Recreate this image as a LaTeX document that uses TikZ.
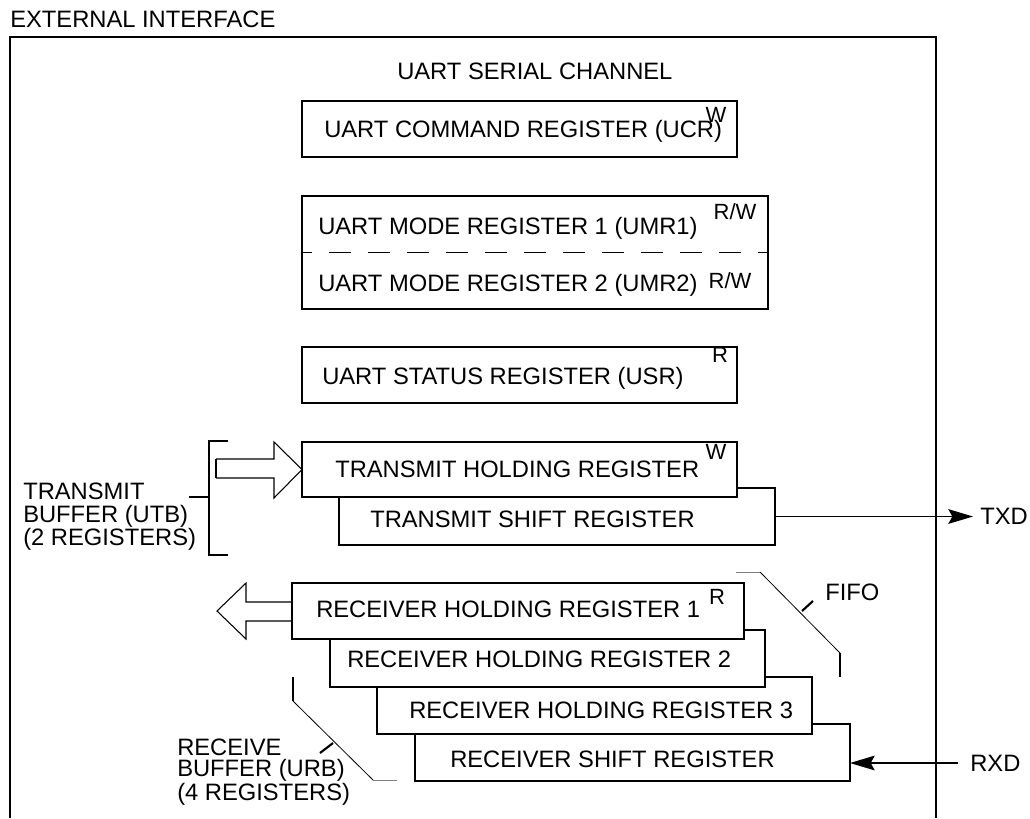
\documentclass[tikz,border=0pt]{standalone}
\usepackage{fontspec}
\setmainfont{Liberation Sans}
\usetikzlibrary{arrows.meta, calc}
\tikzset{%
  regbox/.style 2 args={draw, fill=white, line width=0.8pt, inner sep=0pt, outer sep=0pt,
                        minimum width=#1*0.75pt, minimum height=#2*0.75pt},
  regtext/.style={anchor=base west, inner sep=0pt},
  acc/.style={anchor=base, inner sep=0pt, font=\fontsize{16.5}{16.5}\selectfont},
  bracket/.style={line width=1.6pt},
  sig/.style={line width=1.3pt, -{Stealth[length=18.5pt, width=11pt, inset=3pt]}},
}

\begin{document}
\begin{tikzpicture}[x=0.75pt, y=-0.75pt, font=\fontsize{17.8}{20}\selectfont]
    \useasboundingbox (0,0) rectangle (1030,818);

    %outer frame
    \node[regtext] (ext) at (10,27) {EXTERNAL INTERFACE};
    \draw[line width=0.8pt] (10,818) -- (10,37) -- (936,37) -- (936,818);
    \node[regtext] (chan) at (397,79) {UART SERIAL CHANNEL};

    %command, mode and status registers
    \node[regbox={435}{56}] (ucr) at (519.5,129) {};
    \node[regtext] (ucr-t) at (324,137) {UART COMMAND REGISTER (UCR)};
    \node[acc] (ucr-a) at (716,122) {W};

    \node[regbox={466}{113}] (umr) at (535,252.5) {};
    \draw[line width=0.8pt, dash pattern=on 16.5pt off 12.75pt, dash phase=9pt] (umr.west) -- (umr.east);
    \node[regtext] (umr1-t) at (318,234) {UART MODE REGISTER 1 (UMR1)};
    \node[acc] (umr1-a) at (735,219) {R/W};
    \node[regtext] (umr2-t) at (318,291) {UART MODE REGISTER 2 (UMR2)};
    \node[acc] (umr2-a) at (730,288) {R/W};

    \node[regbox={435}{56}] (usr) at (519.5,375) {};
    \node[regtext] (usr-t) at (322,384) {UART STATUS REGISTER (USR)};
    \node[acc] (usr-a) at (720,362) {R};

    %transmit buffer
    \node[regbox={436}{57}] (tsr) at (557,516.5) {};
    \node[regbox={435}{55}] (thr) at (519.5,469.5) {};
    \node[regtext] (thr-t) at (335,477) {TRANSMIT HOLDING REGISTER};
    \node[acc] (thr-a) at (716,459) {W};
    \node[regtext] (tsr-t) at (370,527) {TRANSMIT SHIFT REGISTER};

    \draw[line width=0.8pt] (216,459) -- (274,459) -- (274,442) -- (thr.west) -- (274,498) -- (274,478) -- (216,478);
    \draw[bracket] (216,459) -- (216,478);

    \draw[bracket] (228,441) -- (209,441) -- (209,555) -- (228,555);
    \draw[bracket] (189,497) -- (209,497);
    \node[align=left, anchor=north west, inner sep=0pt, font=\fontsize{17.8}{17.25}\selectfont] (utb) at (23,483)
        {TRANSMIT\\BUFFER (UTB)\\(2 REGISTERS)};

    \node[anchor=west, inner xsep=5.25pt, inner ysep=0pt] (txd) at (973,516.5) {TXD};
    \draw[sig] (tsr.east) -- (tsr.east -| txd.west);

    %receive buffer
    \node[regbox={435}{57}] (rsr) at (632.5,752.5) {};
    \node[regbox={435}{57}] (rhr3) at (594.5,705.5) {};
    \node[regbox={435}{57}] (rhr2) at (547.5,658.5) {};
    \node[regbox={452}{56}] (rhr1) at (518,611) {};
    \node[regtext] (rhr1-t) at (316,617) {RECEIVER HOLDING REGISTER 1};
    \node[acc] (rhr1-a) at (717,604) {R};
    \node[regtext] (rhr2-t) at (347,667) {RECEIVER HOLDING REGISTER 2};
    \node[regtext] (rhr3-t) at (409,718) {RECEIVER HOLDING REGISTER 3};
    \node[regtext] (rsr-t) at (450,767) {RECEIVER SHIFT REGISTER};

    \draw[line width=0.8pt] (292,602) -- (246,602) -- (246,583) -- (217,611) -- (246,639) -- (246,621) -- (292,621);
    \draw[bracket] (292,602) -- (292,621);

    %fifo bracket
    \draw[line width=0.6pt, gray] (736,572) -- (760,572);
    \draw[line width=0.6pt] (760,572) -- (840,653);
    \draw[bracket] (840,653) -- (840,677);
    \draw[bracket] (802,611) -- (813,601);
    \node[regtext] (fifo) at (825,600) {FIFO};

    %receive buffer bracket
    \draw[bracket] (293,677) -- (293,701);
    \draw[line width=0.6pt] (293,701) -- (373,780);
    \draw[line width=0.6pt, gray] (373,780) -- (397,780);
    \draw[bracket] (320,753) -- (333,743);
    \node[align=left, anchor=north west, inner sep=0pt, font=\fontsize{17.8}{15.6}\selectfont] (urb) at (177,739)
        {RECEIVE\\BUFFER (URB)\\(4 REGISTERS)};

    \node[anchor=west, inner xsep=9pt, inner ysep=0pt] (rxd) at (958,763) {RXD};
    \draw[sig] (rxd.west) -- (rxd.west -| rsr.east);

\end{tikzpicture}
\end{document}
